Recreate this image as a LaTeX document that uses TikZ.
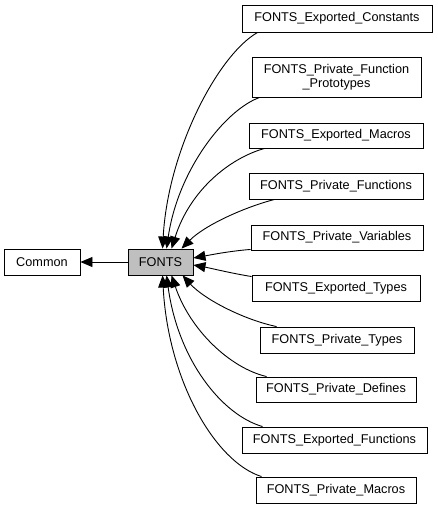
\documentclass[tikz,border=0pt]{standalone}
\usepackage{fontspec}
\setmainfont{Liberation Sans}
\usetikzlibrary{arrows.meta}
\begin{document}
\begin{tikzpicture}[x=1pt,y=-1pt,
  box/.style={draw=black,line width=0.9pt,fill=white,inner sep=0pt,align=center,
    font=\fontsize{12.7}{14.5}\selectfont},
  edge/.style={draw=black,line width=0.9pt,-{Triangle[length=12pt,width=10pt]}}]
\useasboundingbox (0,0) rectangle (437,509);
\node[box,minimum width=190pt,minimum height=27pt] (ec) at (337,18.5) {FONTS\_Exported\_Constants};
\node[box,minimum width=169pt,minimum height=40pt] (pfp) at (336.5,77) {FONTS\_Private\_Function\\\_Prototypes};
\node[box,minimum width=174pt,minimum height=25pt] (em) at (336,135.5) {FONTS\_Exported\_Macros};
\node[box,minimum width=174pt,minimum height=26pt] (pf) at (336,186) {FONTS\_Private\_Functions};
\node[box,minimum width=172pt,minimum height=25pt] (pv) at (337,237.5) {FONTS\_Private\_Variables};
\node[box,minimum width=168pt,minimum height=26pt] (et) at (336,288) {FONTS\_Exported\_Types};
\node[box,minimum width=154pt,minimum height=26pt] (pt) at (337,340) {FONTS\_Private\_Types};
\node[box,minimum width=160pt,minimum height=25pt] (pd) at (336,389.5) {FONTS\_Private\_Defines};
\node[box,minimum width=185pt,minimum height=26pt] (ef) at (334.5,440) {FONTS\_Exported\_Functions};
\node[box,minimum width=160pt,minimum height=26pt] (pm) at (336,490) {FONTS\_Private\_Macros};
\node[box,minimum width=76pt,minimum height=26pt] (common) at (42,262) {Common};
\node[box,fill={rgb,255:red,191;green,191;blue,191},minimum width=65pt,minimum height=26pt] (fonts) at (160.5,262) {FONTS};

\draw[edge] (fonts.west) -- (common.east);

\draw[edge] ([xshift=16pt]ec.south west) .. controls (218,55) and (168,150) .. ([xshift=35pt]fonts.north west);
\draw[edge] ([xshift=8pt]pfp.south west) .. controls (225,110) and (178,170) .. ([xshift=39pt]fonts.north west);
\draw[edge] ([xshift=16pt]em.south west) .. controls (230,158) and (190,190) .. ([xshift=44pt]fonts.north west);
\draw[edge] ([xshift=26pt]pf.south west) .. controls (245,207) and (205,225) .. ([xshift=54pt]fonts.north west);
\draw[edge] ([yshift=1pt]pv.south west) .. controls (230,251) and (210,255) .. ([yshift=4pt]fonts.east);
\draw[edge] ([yshift=-2pt]et.north west) .. controls (230,273) and (210,268) .. ([yshift=-3pt]fonts.east);
\draw[edge] ([xshift=17pt]pt.north west) .. controls (245,320) and (205,300) .. ([xshift=55pt]fonts.south west);
\draw[edge] ([xshift=11pt]pd.north west) .. controls (230,368) and (190,330) .. ([xshift=44pt]fonts.south west);
\draw[edge] ([xshift=21pt]ef.north west) .. controls (222,415) and (178,360) .. ([xshift=39pt]fonts.south west);
\draw[edge] ([xshift=6pt]pm.north west) .. controls (215,462) and (168,380) .. ([xshift=35pt]fonts.south west);
\end{tikzpicture}
\end{document}
